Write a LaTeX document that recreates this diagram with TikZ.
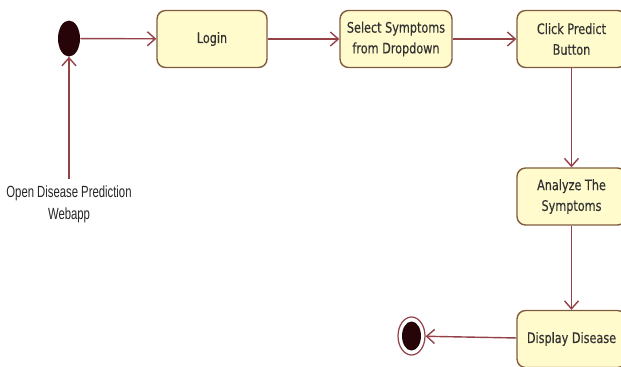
\documentclass[tikz,border=0pt]{standalone}
\usepackage{fontspec}
\setsansfont{DejaVu Sans}[FakeStretch=0.78,FakeBold=0.3]
\newfontfamily\notefont{Liberation Sans}[FakeStretch=0.7]
\usepackage{tikz}
\usetikzlibrary{positioning,shapes.geometric,arrows.meta}
\definecolor{flowline}{RGB}{148,66,72}
\definecolor{boxfill}{RGB}{255,251,204}
\definecolor{boxedge}{RGB}{128,92,62}
\definecolor{boxtext}{RGB}{50,50,50}
\definecolor{dot}{RGB}{38,4,8}

\begin{document}
\begin{tikzpicture}[x=0.02cm,y=-0.02cm,font=\sffamily\fontsize{8.2}{11.8}\selectfont]
  % pixel grid: 621 x 366, y downwards
  \clip (0,0) rectangle (621,366);
  \tikzset{act/.style={draw=boxedge,fill=boxfill,line width=0.8pt,rounded corners=0.17cm,
                       minimum height=1.14cm,align=center,text=boxtext,inner sep=2pt},
           flow/.style={draw=flowline,line width=0.8pt,-{Straight Barb[length=4.5pt,width=8pt]}}}
  % start / end markers
  \node[ellipse,fill=dot,minimum width=0.44cm,minimum height=0.72cm,inner sep=0pt] (start) at (69,38.5) {};
  \node[ellipse,draw=flowline,line width=0.7pt,minimum width=0.54cm,minimum height=0.76cm,inner sep=0pt] (stop) at (411.5,336) {};
  \node[ellipse,fill=dot,minimum width=0.38cm,minimum height=0.58cm,inner sep=0pt] at (stop) {};
  % activities
  \node[act,minimum width=2.2cm]  (login)   at (212,39)    {Login};
  \node[act,minimum width=2.24cm] (select)  at (396,39)    {Select Symptoms\\from Dropdown};
  \node[act,minimum width=2.18cm] (predict) at (571.5,39)  {Click Predict\\Button};
  \node[act,minimum width=2.18cm] (analyze) at (571.5,196.5) {Analyze The\\Symptoms};
  \node[act,minimum width=2.18cm] (display) at (571.5,339) {Display Disease};
  \node[align=center,text=black!85,font=\notefont\fontsize{9.2}{12.6}\selectfont] (webapp) at (69,204)
       {Open Disease Prediction\\Webapp};
  % transitions
  \draw[flow] (webapp) -- (start);
  \draw[flow] (start) -- (login);
  \draw[flow] (login) -- (select);
  \draw[flow] (select) -- (predict);
  \draw[flow] (predict) -- (analyze);
  \draw[flow] (analyze) -- (display);
  \draw[flow] (display) -- (stop);
\end{tikzpicture}
\end{document}
